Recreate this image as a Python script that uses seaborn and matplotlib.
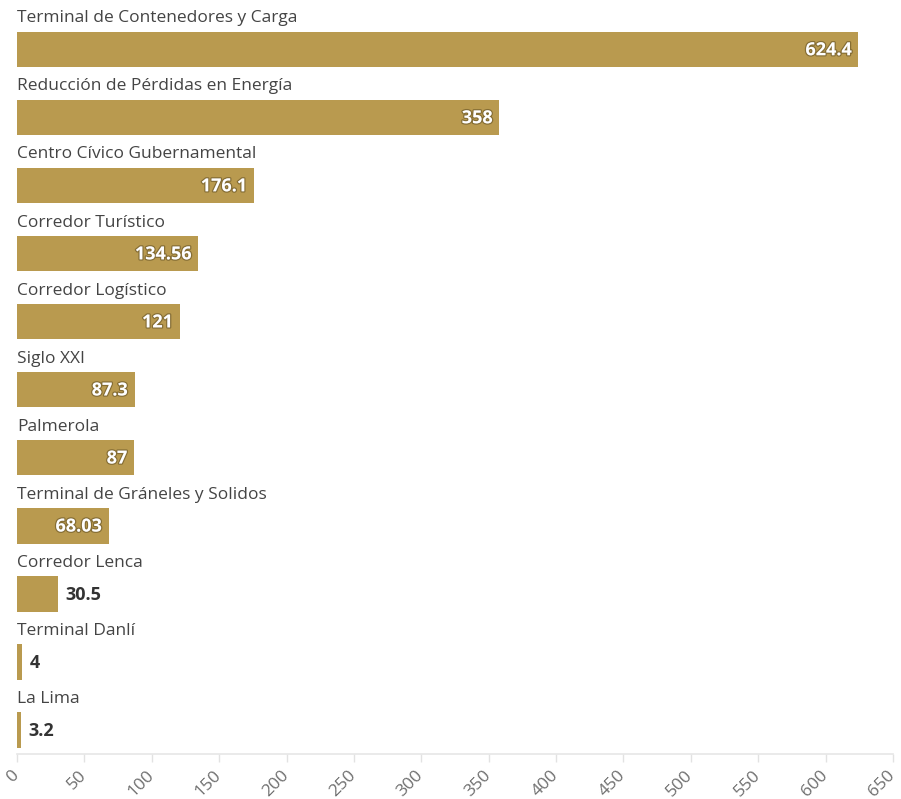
import matplotlib
matplotlib.use("Agg")
import matplotlib.pyplot as plt
import matplotlib.patheffects as pe
import matplotlib.transforms as mtransforms
import seaborn as sns
import pandas as pd

proyectos = [
    "Terminal de Contenedores y Carga",
    "Reducción de Pérdidas en Energía",
    "Centro Cívico Gubernamental",
    "Corredor Turístico",
    "Corredor Logístico",
    "Siglo XXI",
    "Palmerola",
    "Terminal de Gráneles y Solidos",
    "Corredor Lenca",
    "Terminal Danlí",
    "La Lima",
]
montos = [624.4, 358, 176.1, 134.56, 121, 87.3, 87, 68.03, 30.5, 4, 3.2]
etiquetas = ["624.4", "358", "176.1", "134.56", "121", "87.3", "87", "68.03", "30.5", "4", "3.2"]
ticks_x = list(range(0, 651, 50))

df = pd.DataFrame({"proyecto": proyectos, "monto": montos})

sns.set_theme(style="white")
plt.rcParams["font.family"] = ["Open Sans", "DejaVu Sans"]

BAR = "#B99A4F"
fig = plt.figure(figsize=(9.01, 7.99), dpi=100)
ax = fig.add_axes([17 / 901, 1 - 754 / 799, 876 / 901, 754 / 799])

bar_h = 0.52
sns.barplot(data=df, x="monto", y="proyecto", orient="h", color=BAR,
            width=bar_h, saturation=1, linewidth=0, ax=ax)

ax.set_xlim(0, 650)
ax.set_ylim(10.353, -0.728)
ax.set_xlabel("")
ax.set_ylabel("")
ax.set_yticks([])
ax.set_xticks(ticks_x)
ax.set_xticklabels([str(t) for t in ticks_x], rotation=45, ha="right",
                   va="top", rotation_mode="anchor", color="#6f6f6f", fontsize=12.5)
ax.tick_params(axis="x", length=6, width=1, color="#e2e2e2", pad=3, bottom=True)

# nudge the rotated tick labels a little left so the last one stays inside
shift = mtransforms.ScaledTranslation(-6 / 100, -1 / 100, fig.dpi_scale_trans)
for lbl in ax.get_xticklabels():
    lbl.set_transform(lbl.get_transform() + shift)

for s in ["top", "right", "left"]:
    ax.spines[s].set_visible(False)
ax.spines["bottom"].set_color("#e6e6e6")
ax.spines["bottom"].set_linewidth(1.2)

glow = [pe.withStroke(linewidth=1.8, foreground=(0.36, 0.29, 0.12, 0.55))]
for i, (nombre, v, lab) in enumerate(zip(proyectos, montos, etiquetas)):
    ax.text(0, i - bar_h / 2 - 0.08, nombre, ha="left", va="bottom",
            fontsize=12.5, color="#444444")
    if v >= 60:
        ax.annotate(lab, xy=(v, i), xytext=(-5, -0.5), textcoords="offset points",
                    ha="right", va="center", fontsize=13, fontweight="bold",
                    color="white", path_effects=glow)
    else:
        ax.annotate(lab, xy=(v, i), xytext=(5, -0.5), textcoords="offset points",
                    ha="left", va="center", fontsize=13, fontweight="bold",
                    color="#333333")

fig.savefig("out.png", dpi=100, facecolor="white")
